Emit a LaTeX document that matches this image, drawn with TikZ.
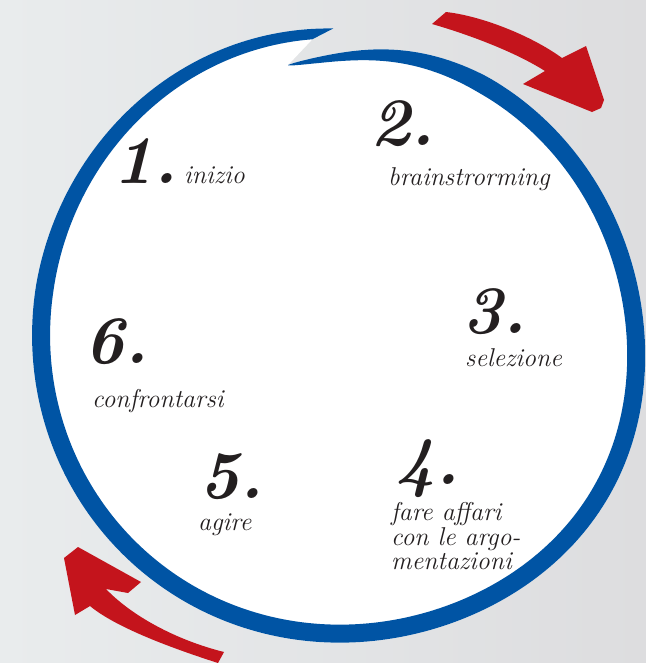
\documentclass[tikz,border=0pt]{standalone}
\usepackage{fontspec}
\definecolor{ringblue}{RGB}{0,84,164}
\definecolor{arrred}{RGB}{196,20,28}
\definecolor{ink}{RGB}{35,31,32}
\definecolor{bgl}{RGB}{233,236,237}
\definecolor{bgr}{RGB}{221,221,223}
\tikzset{
 num/.style={anchor=base west, inner sep=0pt, text=ink, font=\fontsize{58}{58}\selectfont\bfseries\itshape},
 lab/.style={anchor=base west, inner sep=0pt, text=ink, font=\fontsize{22}{22}\selectfont\itshape},
 arrowfill/.style={fill=arrred},
}
\begin{document}
\begin{tikzpicture}[x=0.03cm,y=-0.03cm,
  declare function={gs(\x)=exp(-(\x)*(\x));
    rm(\t)=294+12*gs((\t+30)/35)+12*gs((\t+260)/50)-16*gs((\t-100)/20);
    ww(\t)=18*min(1,((100-\t)/40)^0.6)*min(1,0.55+0.45*(\t+270)/80);}]
\useasboundingbox (0,0) rectangle (646,663);
\shade[left color=bgl, right color=bgr] (0,0) rectangle (646,663);
\begin{scope}[shift={(336,339)},yscale=-1]
\fill[white] plot[domain=99.9:-269.5, samples=300, variable=\t] (\t:{rm(\t)+ww(\t)/2}) -- (-265.5:{rm(-265.5)-ww(-265.5)/2}) -- cycle;
\fill[ringblue] plot[domain=99.9:-269.5, samples=300, variable=\t] (\t:{rm(\t)+ww(\t)/2})
 -- plot[domain=-265.5:99.9, samples=300, variable=\t] (\t:{rm(\t)-ww(\t)/2}) -- cycle;
\end{scope}
% top-right arrow
\fill[arrowfill] (432,24) -- (446,12) .. controls (482,16) and (532,36) .. (562,58) -- (586,46) -- (604,100) -- (601,108) -- (592,112) -- (523,84) -- (545,71) .. controls (515,52) and (470,35) .. (432,24) -- cycle;
% bottom-left arrow
\fill[arrowfill] (64,558) -- (78,547) -- (141,582) -- (128,593) -- (106,589) .. controls (132,616) and (176,640) .. (224,652) -- (218,663) .. controls (165,646) and (114,626) .. (90,606) -- (75,615) -- cycle;
% texts
\node[num] (n1) at (113,183) {1.};
\node[lab] (l1) at (184,183) {inizio};
\node[num] (n2) at (370,145) {2.};
\node[lab] (l2) at (388,185) {brainstrorming};
\node[num] (n3) at (462,333) {3.};
\node[lab] (l3) at (465,366) {selezione};
\node[num] (n4) at (395,484) {4.};
\node[lab] (l4a) at (391,520) {fare affari};
\node[lab] (l4b) at (391,545) {con le argo-};
\node[lab] (l4c) at (391,569) {mentazioni};
\node[num] (n5) at (199,498) {5.};
\node[lab] (l5) at (198,530) {agire};
\node[num] (n6) at (84,363) {6.};
\node[lab] (l6) at (92,407) {confrontarsi};
\end{tikzpicture}
\end{document}
